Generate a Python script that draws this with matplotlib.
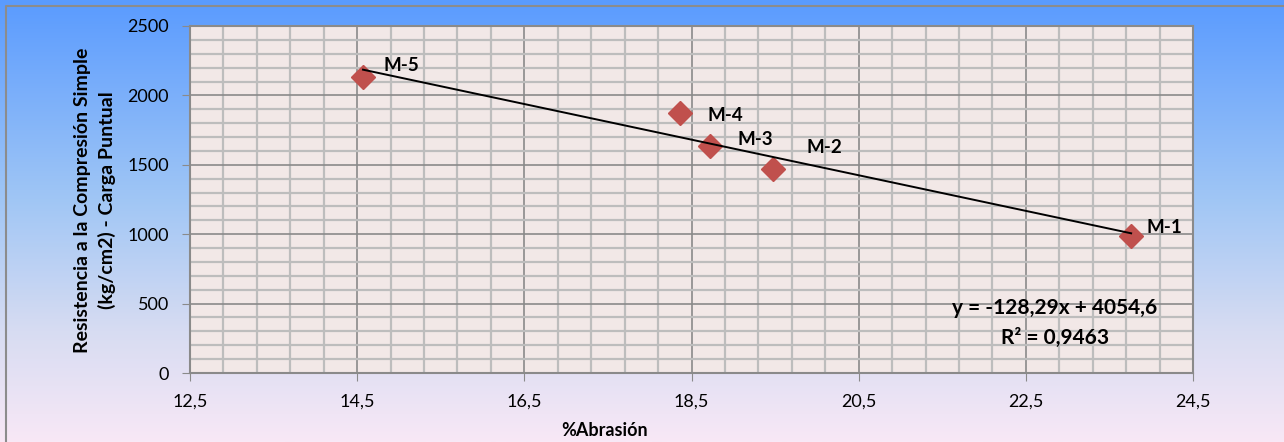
import matplotlib
matplotlib.use("Agg")
import matplotlib.pyplot as plt
import numpy as np
from matplotlib.colors import LinearSegmentedColormap
from matplotlib.ticker import FixedLocator

# data
muestras = ["M-1", "M-2", "M-3", "M-4", "M-5"]
abrasion = [23.76, 19.47, 18.72, 18.36, 14.57]
resistencia = [987, 1470, 1635, 1873, 2133]
slope = -128.29
intercept = 4054.6
eq_text = "y = -128,29x + 4054,6"
r2_text = "R² = 0,9463"
x_ticks = [12.5, 14.5, 16.5, 18.5, 20.5, 22.5, 24.5]
y_ticks = [0, 500, 1000, 1500, 2000, 2500]

label_offsets = {"M-1": (15, 9), "M-2": (34, 21), "M-3": (28, 7), "M-4": (28, -2), "M-5": (20, 11)}

plt.rcParams["font.family"] = ["Lato", "DejaVu Sans"]

fig = plt.figure(figsize=(12.84, 4.42), dpi=100)

# gradient background
bg = fig.add_axes([0, 0, 1, 1], zorder=-10)
cmap = LinearSegmentedColormap.from_list(
    "bg", [(0.0, (90/255, 155/255, 255/255)), (0.45, (160/255, 198/255, 245/255)),
           (0.75, (215/255, 220/255, 242/255)), (1.0, (248/255, 232/255, 246/255))])
grad = np.linspace(0, 1, 256).reshape(-1, 1)
bg.imshow(grad, aspect="auto", cmap=cmap, extent=[0, 1, 0, 1], origin="upper")
bg.plot([6/1284, 6/1284, 1], [0, 1 - 6/442, 1 - 6/442], color="#8c8c8c", lw=1.5)
bg.set_xlim(0, 1)
bg.set_ylim(0, 1)
bg.axis("off")

ax = fig.add_axes([190/1284, 1 - 373/442, (1193 - 190)/1284, (373 - 26)/442])
ax.set_facecolor("#f2e8e7")
ax.set_xlim(12.5, 24.5)
ax.set_ylim(0, 2500)
ax.xaxis.set_major_locator(FixedLocator(x_ticks))
ax.xaxis.set_minor_locator(FixedLocator(np.arange(12.5, 24.51, 0.4)))
ax.yaxis.set_major_locator(FixedLocator(y_ticks))
ax.yaxis.set_minor_locator(FixedLocator(np.arange(0, 2501, 100)))
ax.grid(which="minor", color="#bdbdbd", lw=1.6)
ax.grid(which="major", color="#8a8a8a", lw=1.2)
ax.set_axisbelow(True)
ax.tick_params(which="minor", length=0)
ax.tick_params(which="major", length=6, color="#8a8a8a", labelsize=13, pad=9)
for s in ax.spines.values():
    s.set_color("#8a8a8a")
    s.set_linewidth(1.5)
ax.set_xticklabels([f"{v:.1f}".replace(".", ",") for v in x_ticks])
ax.set_yticklabels([str(v) for v in y_ticks])

xs = np.array([min(abrasion), max(abrasion)])
ax.plot(xs, slope * xs + intercept, color="black", lw=1.4, zorder=3)
ax.plot(abrasion, resistencia, "D", color="#c0504d", markersize=12.5,
        markeredgecolor="#c0504d", zorder=2)
for name, x, y in zip(muestras, abrasion, resistencia):
    ax.annotate(name, (x, y), xytext=label_offsets[name], textcoords="offset pixels",
                fontsize=13.5, fontweight="bold", va="center", ha="left", zorder=4)

ax.text(22.85, 468, eq_text, fontsize=15, fontweight="bold", ha="center", va="center")
ax.text(22.85, 255, r2_text, fontsize=15, fontweight="bold", ha="center", va="center")

fig.text(605/1284, 1 - 430/442, "%Abrasión", fontsize=13, fontweight="bold",
         ha="center", va="center")
fig.text(95/1284, 1 - 200/442, "Resistencia a la Compresión Simple\n(kg/cm2) - Carga Puntual",
         fontsize=14, fontweight="bold", rotation=90, ha="center", va="center",
         multialignment="center", linespacing=1.45)

fig.savefig("out.png", dpi=100)
